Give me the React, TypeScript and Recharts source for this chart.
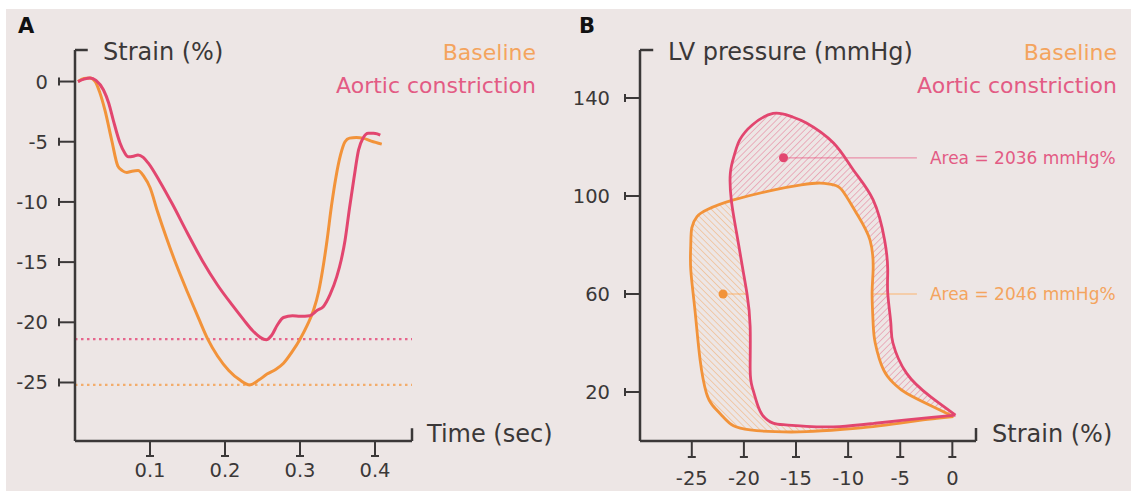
import React from 'react';
import {
  LineChart,
  Line,
  ScatterChart,
  Scatter,
  XAxis,
  YAxis,
  ReferenceLine,
  ReferenceDot,
  Legend,
  Curve,
} from 'recharts';

const BG = '#ede6e5';
const INK = '#3b3838';
const ORANGE = '#f2933a';
const PINK = '#e2466f';
const ORANGE_TEXT = '#f4a45e';
const PINK_TEXT = '#e35b84';
const FONT = '"DejaVu Sans", sans-serif';

// Panel A: strain over time
const baselineTime = [0.004, 0.012, 0.02, 0.027, 0.033, 0.04, 0.049, 0.057, 0.063, 0.069, 0.076, 0.084, 0.092, 0.1, 0.11, 0.122, 0.135, 0.15, 0.165, 0.177, 0.19, 0.205, 0.22, 0.233, 0.245, 0.256, 0.268, 0.278, 0.29, 0.3, 0.31, 0.318, 0.325, 0.33, 0.336, 0.342, 0.348, 0.354, 0.36, 0.366, 0.375, 0.384, 0.395, 0.409];
const baselineStrain = [0, 0.25, 0.3, 0, -0.9, -2.4, -4.9, -7.0, -7.4, -7.55, -7.45, -7.4, -7.9, -8.8, -10.8, -13.0, -15.2, -17.5, -19.7, -21.4, -22.8, -24.0, -24.8, -25.2, -24.8, -24.3, -23.9, -23.4, -22.4, -21.4, -20.2, -19.0, -17.4, -15.7, -13.2, -10.3, -7.9, -6.1, -5.0, -4.7, -4.65, -4.7, -4.95, -5.2];
const aorticTime = [0.004, 0.012, 0.02, 0.028, 0.038, 0.045, 0.051, 0.06, 0.066, 0.071, 0.078, 0.084, 0.091, 0.098, 0.113, 0.13, 0.15, 0.17, 0.19, 0.21, 0.225, 0.237, 0.247, 0.255, 0.262, 0.27, 0.278, 0.29, 0.3, 0.313, 0.323, 0.331, 0.34, 0.349, 0.355, 0.36, 0.366, 0.372, 0.378, 0.384, 0.391, 0.398, 0.403, 0.407];
const aorticStrain = [0, 0.2, 0.3, 0.1, -0.7, -1.8, -3.2, -5.1, -5.9, -6.25, -6.2, -6.1, -6.3, -6.8, -8.3, -10.2, -12.6, -14.9, -16.9, -18.6, -19.8, -20.7, -21.25, -21.45, -21.1, -20.2, -19.6, -19.45, -19.5, -19.45, -19.0, -18.7, -17.7, -16.2, -14.8, -13.2, -10.5, -8.0, -5.7, -4.7, -4.3, -4.3, -4.35, -4.45];
const strainTicks = [0, -5, -10, -15, -20, -25];
const timeTicks = [0.1, 0.2, 0.3, 0.4];
const peakBaseline = -25.2;
const peakAortic = -21.4;

// Panel B: pressure-strain loops
const baselineLoopStrain = [0.1, -1.5, -2.8, -5, -7.6, -10.5, -14, -17, -19.4, -21, -22, -23, -23.6, -24.2, -24.7, -25.1, -25.1, -25, -24.5, -23.5, -21, -17.2, -14.5, -12.7, -11.5, -10.6, -9.2, -7.9, -7.6, -7.7, -7.6, -7.4, -6.6, -5.6, -4.4, -1.85, 0.1];
const baselineLoopPressure = [10, 9.2, 8.6, 7.3, 5.9, 4.8, 3.8, 3.8, 4.5, 6.2, 9.9, 14.5, 19.5, 33, 53.5, 70, 80, 87, 91.6, 94.5, 98.4, 102.4, 104.5, 105.3, 104.6, 102.5, 93, 82, 70, 60.4, 48, 40, 29, 23.5, 19.5, 14, 10];
const aorticLoopStrain = [0.3, -2, -4.4, -7.5, -10.8, -14, -16, -17.2, -18.2, -18.75, -19.2, -19.4, -19.4, -19.7, -20.1, -20.7, -21.2, -21.3, -20.9, -20.4, -19.2, -17.2, -15.5, -14, -11.4, -9.5, -7.6, -6.5, -6.2, -6.2, -5.9, -5.7, -4.4, -2.1, 0.3];
const aorticLoopPressure = [10.6, 9.6, 8.6, 7.2, 5.9, 6.0, 6.6, 7.3, 10.5, 15.5, 22, 29, 46.7, 60, 70, 84.9, 98, 109.4, 117, 122.9, 129, 133.7, 132.5, 129.8, 121.6, 110.6, 98.4, 82, 70, 60.4, 48, 40, 27.7, 18.1, 10.6];
const loopStrainTicks = [-25, -20, -15, -10, -5, 0];
const pressureTicks = [20, 60, 100, 140];
const aorticMarker = [-16.2, 115.6];
const baselineMarker = [-22, 60];
const calloutEnd = -3.4;
const aorticAreaLabel = 'Area = 2036 mmHg%';
const baselineAreaLabel = 'Area = 2046 mmHg%';

const legendNames = ['Baseline', 'Aortic constriction'];
const legendColors = [ORANGE_TEXT, PINK_TEXT];

const baselineData = baselineTime.map((t, i) => ({ t, v: baselineStrain[i] }));
const aorticData = aorticTime.map((t, i) => ({ t, v: aorticStrain[i] }));
const baselineLoop = baselineLoopStrain.map((s, i) => ({ s, p: baselineLoopPressure[i] }));
const aorticLoop = aorticLoopStrain.map((s, i) => ({ s, p: aorticLoopPressure[i] }));

const A_X: [number, number] = [0, 0.4493];
const A_Y: [number, number] = [-29.86, 2.62];
const B_X: [number, number] = [-29.97, 2.27];
const B_Y: [number, number] = [0, 159.6];

function LegendBlock() {
  return (
    <div style={{ textAlign: 'right', fontFamily: FONT, fontSize: 22, lineHeight: '33px' }}>
      {legendNames.map((n, i) => (
        <div key={n} style={{ color: legendColors[i] }}>{n}</div>
      ))}
    </div>
  );
}

const makeYTick = (gap: number) => (props: any) => {
  const { x, y, payload } = props;
  return (
    <g>
      <line x1={x + gap} x2={x + gap} y1={y - 4} y2={y + 4} stroke={INK} strokeWidth={2} />
      <text x={x} y={y + 7} textAnchor="end" fill={INK} fontSize={19.5} fontFamily={FONT}>
        {payload.value}
      </text>
    </g>
  );
};

const makeXTick = (gap: number, drop: number) => (props: any) => {
  const { x, y, payload } = props;
  return (
    <g>
      <line x1={x - 4} x2={x + 4} y1={y - gap} y2={y - gap} stroke={INK} strokeWidth={2} />
      <text x={x} y={y + drop} textAnchor="middle" fill={INK} fontSize={19.5} fontFamily={FONT}>
        {payload.value}
      </text>
    </g>
  );
};

function YTitle(props: any) {
  const { viewBox, text, letter, letterX } = props;
  const { x, y, width } = viewBox;
  return (
    <g fontFamily={FONT}>
      <text x={letterX} y={33} fontSize={21} fontWeight="bold" fill="#111">{letter}</text>
      <text x={x + width + 28} y={y + 10} fontSize={24} fill={INK}>{text}</text>
    </g>
  );
}

function XTitle(props: any) {
  const { viewBox, text, gap } = props;
  const { x, y, width } = viewBox;
  return (
    <text x={x + width + gap} y={y + 1} fontSize={24} fill={INK} fontFamily={FONT}>{text}</text>
  );
}

function LoopFill(props: any) {
  const { points, hatch, clipId, erase } = props;
  if (!points || !points.length) return null;
  return (
    <g>
      <defs>
        <clipPath id={clipId}>
          <Curve points={points} type="natural" />
        </clipPath>
      </defs>
      <Curve points={points} type="natural" fill={`url(#${hatch})`} stroke="none" />
      {erase && (
        <g clipPath={`url(#${erase})`}>
          <Curve points={points} type="natural" fill={BG} stroke="none" />
        </g>
      )}
    </g>
  );
}

const noDot = () => <g />;

export default function App() {
  return (
    <div style={{ position: 'absolute', left: 0, top: 0, width: 1131, height: 491, background: '#fff', overflow: 'hidden' }}>
      <div style={{ position: 'absolute', left: 6, top: 9, right: 0, bottom: 0, background: BG }} />

      <div style={{ position: 'absolute', left: 0, top: 0 }}>
        <LineChart width={565} height={491} margin={{ top: 50, right: 153, bottom: 0, left: 0 }}>
          <XAxis
            type="number"
            dataKey="t"
            domain={A_X}
            allowDataOverflow
            ticks={timeTicks}
            tickSize={15}
            tickMargin={4}
            height={50}
            axisLine={{ stroke: INK, strokeWidth: 2.5 }}
            tickLine={{ stroke: INK, strokeWidth: 2 }}
            tick={makeXTick(4, 17)}
            label={<XTitle text="Time (sec)" gap={15} />}
          />
          <YAxis
            type="number"
            domain={A_Y}
            allowDataOverflow
            ticks={strainTicks}
            tickSize={16}
            tickMargin={11}
            width={75}
            axisLine={{ stroke: INK, strokeWidth: 2.5 }}
            tickLine={{ stroke: INK, strokeWidth: 2 }}
            tick={makeYTick(11)}
            label={<YTitle text="Strain (%)" letter="A" letterX={18} />}
          />
          <ReferenceLine segment={[{ x: A_X[0], y: A_Y[1] }, { x: 0.017, y: A_Y[1] }]} stroke={INK} strokeWidth={2.5} ifOverflow="visible" />
          <ReferenceLine segment={[{ x: A_X[1], y: A_Y[0] }, { x: A_X[1], y: -28.8 }]} stroke={INK} strokeWidth={2.5} ifOverflow="visible" />
          <ReferenceLine y={peakAortic} stroke="#e6658c" strokeWidth={2.2} strokeDasharray="2.5 3.5" />
          <ReferenceLine y={peakBaseline} stroke="#f3ad6c" strokeWidth={2.2} strokeDasharray="2.5 3.5" />
          <Line data={baselineData} dataKey="v" type="monotone" stroke={ORANGE} strokeWidth={3} dot={false} isAnimationActive={false} />
          <Line data={aorticData} dataKey="v" type="monotone" stroke={PINK} strokeWidth={3} dot={false} isAnimationActive={false} />
          <Legend
            layout="horizontal"
            verticalAlign="middle"
            align="center"
            content={<LegendBlock />}
            wrapperStyle={{ top: 36, left: 236, width: 300 }}
          />
        </LineChart>
      </div>

      <div style={{ position: 'absolute', left: 565, top: 0 }}>
        <ScatterChart width={566} height={491} margin={{ top: 50, right: 155, bottom: 0, left: 0 }}>
          <defs>
            <pattern id="hatchBase" patternUnits="userSpaceOnUse" width={4.5} height={4.5} patternTransform="rotate(-45)">
              <line x1={0} y1={0} x2={0} y2={4.5} stroke={ORANGE} strokeWidth={1} strokeOpacity={0.7} />
            </pattern>
            <pattern id="hatchAortic" patternUnits="userSpaceOnUse" width={4.5} height={4.5} patternTransform="rotate(45)">
              <line x1={0} y1={0} x2={0} y2={4.5} stroke={PINK} strokeWidth={1} strokeOpacity={0.7} />
            </pattern>
          </defs>
          <XAxis
            type="number"
            dataKey="s"
            domain={B_X}
            allowDataOverflow
            ticks={loopStrainTicks}
            tickSize={16}
            tickMargin={4}
            height={50}
            axisLine={{ stroke: INK, strokeWidth: 2.5 }}
            tickLine={{ stroke: INK, strokeWidth: 2 }}
            tick={makeXTick(4, 24)}
            label={<XTitle text="Strain (%)" gap={16} />}
          />
          <YAxis
            type="number"
            dataKey="p"
            domain={B_Y}
            allowDataOverflow
            ticks={pressureTicks}
            tickSize={15}
            tickMargin={15}
            width={75}
            axisLine={{ stroke: INK, strokeWidth: 2.5 }}
            tickLine={{ stroke: INK, strokeWidth: 2 }}
            tick={makeYTick(15)}
            label={<YTitle text="LV pressure (mmHg)" letter="B" letterX={14} />}
          />
          <ReferenceLine segment={[{ x: B_X[0], y: B_Y[1] }, { x: -28.7, y: B_Y[1] }]} stroke={INK} strokeWidth={2.5} ifOverflow="visible" />
          <ReferenceLine segment={[{ x: B_X[1], y: B_Y[0] }, { x: B_X[1], y: 5.3 }]} stroke={INK} strokeWidth={2.5} ifOverflow="visible" />
          <Scatter data={baselineLoop} line={<LoopFill hatch="hatchBase" clipId="clipBase" />} lineType="joint" shape={noDot} isAnimationActive={false} />
          <Scatter data={aorticLoop} line={<LoopFill hatch="hatchAortic" clipId="clipAortic" erase="clipBase" />} lineType="joint" shape={noDot} isAnimationActive={false} />
          <Scatter data={baselineLoop} line={{ stroke: ORANGE, strokeWidth: 2.8 }} lineType="joint" lineJointType="natural" shape={noDot} isAnimationActive={false} />
          <Scatter data={aorticLoop} line={{ stroke: PINK, strokeWidth: 2.8 }} lineType="joint" lineJointType="natural" shape={noDot} isAnimationActive={false} />
          <ReferenceLine
            segment={[{ x: aorticMarker[0], y: aorticMarker[1] }, { x: calloutEnd, y: aorticMarker[1] }]}
            stroke="#ea8fa9"
            strokeWidth={1.3}
            ifOverflow="visible"
            label={{ value: aorticAreaLabel, position: 'right', offset: 13, fill: PINK_TEXT, fontSize: 17, fontFamily: FONT }}
          />
          <ReferenceLine
            segment={[{ x: baselineMarker[0], y: baselineMarker[1] }, { x: calloutEnd, y: baselineMarker[1] }]}
            stroke="#f6c596"
            strokeWidth={1.3}
            ifOverflow="visible"
            label={{ value: baselineAreaLabel, position: 'right', offset: 13, fill: ORANGE_TEXT, fontSize: 17, fontFamily: FONT }}
          />
          <ReferenceDot x={aorticMarker[0]} y={aorticMarker[1]} r={4.5} fill={PINK} stroke="none" />
          <ReferenceDot x={baselineMarker[0]} y={baselineMarker[1]} r={4.5} fill={ORANGE} stroke="none" />
          <Legend
            layout="horizontal"
            verticalAlign="middle"
            align="center"
            content={<LegendBlock />}
            wrapperStyle={{ top: 36, left: 252, width: 300 }}
          />
        </ScatterChart>
      </div>
    </div>
  );
}
